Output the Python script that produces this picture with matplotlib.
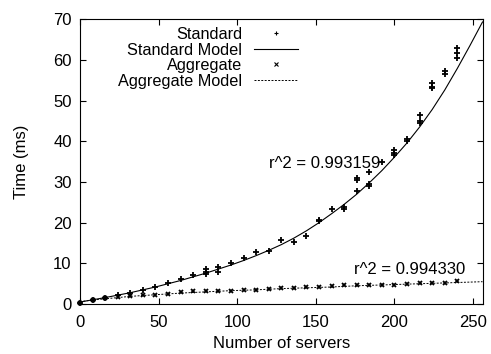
import numpy as np
import matplotlib
matplotlib.use("Agg")
import matplotlib.pyplot as plt

plt.rcParams['font.family'] = ['Liberation Sans', 'DejaVu Sans']
plt.rcParams['font.size'] = 12

# Standard measurements (several runs at some sizes)
std_x = [0, 8, 16, 24, 32, 40, 48, 56, 64, 72, 80, 80, 80, 88, 88, 96, 104, 112, 120,
         128, 136, 144, 152, 152, 160, 168, 168, 176, 176, 176, 184, 184, 184, 192,
         200, 200, 200, 208, 208, 216, 216, 216, 224, 224, 224, 232, 232, 240, 240, 240]
std_y = [0.3, 1.0, 1.6, 2.2, 2.7, 3.4, 4.2, 5.1, 6.1, 7.1, 7.3, 7.9, 8.6, 7.8, 9.1, 10.1,
         11.3, 12.7, 13.0, 15.7, 15.2, 16.7, 20.4, 20.7, 23.3, 23.3, 23.9, 27.8, 30.5, 31.0,
         29.1, 29.5, 32.5, 34.9, 36.5, 37.1, 37.8, 40.1, 40.6, 44.5, 45.0, 46.4, 53.0,
         53.4, 54.4, 56.6, 57.2, 60.5, 61.6, 62.9]

# Aggregate measurements
agg_x = [0, 8, 16, 24, 32, 40, 48, 56, 64, 72, 80, 88, 96, 104, 112, 120, 128, 136, 144,
         152, 160, 168, 176, 184, 192, 200, 208, 216, 224, 232, 240]
agg_y = [0.3, 0.9, 1.5, 1.7, 2.1, 2.2, 2.3, 2.6, 2.9, 3.1, 3.1, 3.2, 3.3, 3.4, 3.5, 3.6,
         3.9, 3.9, 4.1, 4.3, 4.4, 4.6, 4.7, 4.7, 4.8, 4.8, 4.9, 5.1, 5.2, 5.3, 5.6]

# Fitted model curves
model_x = [0, 8, 16, 24, 32, 40, 48, 56, 64, 72, 80, 88, 96, 104, 112, 120, 128, 136,
           144, 152, 160, 168, 176, 184, 192, 200, 208, 216, 224, 232, 240, 248, 256]
std_model = [0.5, 1.05, 1.6, 2.2, 2.8, 3.5, 4.2, 5.0, 5.8, 6.7, 7.6, 8.6, 9.6, 10.7,
             11.9, 13.2, 14.6, 16.2, 18.0, 20.0, 22.2, 24.5, 27.0, 29.8, 32.8, 36.1,
             39.6, 43.5, 47.8, 52.6, 57.9, 63.5, 69.3]
agg_model = [0.6, 1.0, 1.3, 1.6, 1.9, 2.1, 2.3, 2.5, 2.7, 2.85, 3.0, 3.15, 3.3, 3.4,
             3.5, 3.65, 3.8, 3.9, 4.0, 4.1, 4.2, 4.35, 4.5, 4.6, 4.7, 4.8, 4.9, 5.0,
             5.1, 5.2, 5.3, 5.4, 5.5]

std_r2 = "r^2 = 0.993159"
agg_r2 = "r^2 = 0.994330"

fig = plt.figure(figsize=(4.91, 3.54), dpi=100)
ax = fig.add_axes([0.163, 0.141, 0.821, 0.805])

ax.plot(std_x, std_y, linestyle='none', marker='+', color='black',
        markersize=4.5, markeredgewidth=1.3, clip_on=False, label='Standard')
ax.plot(model_x, std_model, color='black', linewidth=0.8, label='Standard Model')
ax.plot(agg_x, agg_y, linestyle='none', marker='x', color='black',
        markersize=3.5, markeredgewidth=1.3, clip_on=False, label='Aggregate')
ax.plot(model_x, agg_model, color='black', linewidth=0.7, dashes=(2, 1.5),
        label='Aggregate Model')

ax.text(120, 34.6, std_r2, ha='left', va='center', fontsize=12)
ax.text(174, 8.6, agg_r2, ha='left', va='center', fontsize=12)

ax.set_xlim(0, 256.4)
ax.set_ylim(0, 70)
ax.set_xticks([0, 50, 100, 150, 200, 250])
ax.set_yticks(np.arange(0, 71, 10))
ax.tick_params(direction='in', top=True, right=True, length=4, width=0.8)
ax.tick_params(axis='x', pad=8)
ax.tick_params(axis='y', pad=6)
for s in ax.spines.values():
    s.set_linewidth(0.8)

ax.set_xlabel('Number of servers', labelpad=4)
ax.set_ylabel('Time (ms)', labelpad=17)

leg = ax.legend(loc='upper right', bbox_to_anchor=(0.54, 0.972), frameon=False,
                markerfirst=False, handlelength=2.7, handletextpad=0.7,
                labelspacing=0.03, borderpad=0, borderaxespad=0, fontsize=11.7)
for h in leg.legend_handles:
    h.set_markersize(3)
    h.set_markeredgewidth(0.8)

fig.savefig('out.png', dpi=100)
